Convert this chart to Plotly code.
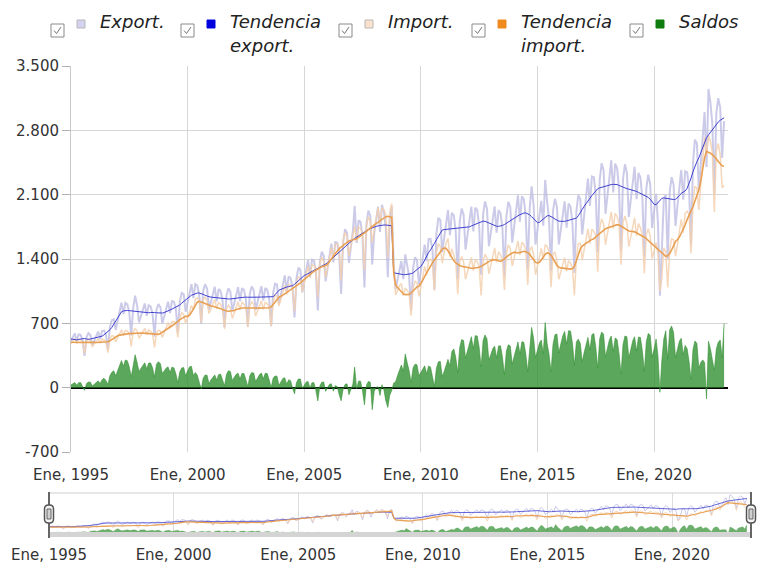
import plotly.graph_objects as go
import pandas as pd

# ---------------- data (monthly, Jan 1995 - Jan 2023) ----------------
export_raw = [
    507, 560, 591, 507, 580, 572, 518, 345, 551, 592, 572, 460,
    514, 572, 610, 528, 616, 621, 578, 415, 655, 734, 745, 628,
    739, 848, 924, 802, 924, 907, 821, 568, 865, 1000, 894, 710,
    789, 869, 916, 782, 897, 883, 804, 556, 848, 909, 875, 698,
    785, 875, 935, 811, 941, 934, 858, 602, 936, 1030, 1015, 826,
    936, 1049, 1126, 974, 1128, 1112, 1009, 697, 1056, 1126, 1075, 851,
    946, 1041, 1098, 939, 1073, 1050, 951, 658, 1005, 1081, 1042, 831,
    929, 1030, 1093, 941, 1082, 1064, 965, 669, 1022, 1100, 1061, 845,
    945, 1044, 1104, 947, 1084, 1064, 964, 670, 1030, 1131, 1123, 912,
    1027, 1145, 1221, 1051, 1210, 1193, 1088, 765, 1191, 1305, 1280, 1036,
    1171, 1304, 1389, 1200, 1392, 1382, 1264, 840, 1362, 1478, 1436, 1157,
    1306, 1463, 1568, 1363, 1584, 1577, 1450, 1020, 1581, 1725, 1685, 1359,
    1531, 1707, 1980, 1574, 1821, 1804, 1651, 1090, 1778, 1926, 1868, 1340,
    1678, 1860, 1971, 1694, 1990, 1912, 1735, 1202, 1836, 1973, 1350, 1071,
    1190, 1309, 1380, 1181, 1450, 1331, 1210, 843, 1300, 1417, 1388, 1122,
    1267, 1431, 1557, 1373, 1617, 1620, 1499, 1068, 1674, 1848, 1825, 1475,
    1651, 1825, 1932, 1659, 1903, 1871, 1699, 1180, 1808, 1949, 1881, 1501,
    1675, 1855, 1971, 1699, 1958, 1933, 1764, 1229, 1884, 2027, 1944, 1539,
    1709, 1876, 1973, 1686, 1931, 1899, 1730, 1207, 1862, 2022, 1966, 1578,
    1773, 1969, 2094, 1807, 2081, 2052, 1864, 1289, 1955, 2190, 1982, 1557,
    1723, 1908, 2033, 1762, 2260, 2020, 1835, 1268, 1924, 2055, 1968, 1558,
    1738, 1916, 2027, 1742, 2002, 1971, 1792, 1248, 1919, 2094, 2052, 1668,
    1895, 2120, 2274, 1978, 2299, 2290, 2102, 1472, 2261, 2442, 2365, 1892,
    2117, 2340, 2475, 2124, 2437, 2387, 2156, 1489, 2267, 2430, 2338, 1858,
    2069, 2279, 2402, 2050, 2338, 2284, 2063, 1425, 2168, 2318, 2214, 1737,
    1915, 2110, 1800, 1000, 1500, 2050, 2100, 1400, 2130, 2290, 2210, 1760,
    1982, 2215, 2369, 2045, 2354, 2344, 2176, 1550, 2444, 2699, 2657, 2150,
    2458, 2777, 3000, 2400, 3250, 3100, 2866, 2100, 2985, 3150, 3050, 2500,
    2900,
]

import_raw = [
    477, 512, 536, 482, 526, 517, 497, 374, 507, 531, 512, 443,
    478, 512, 536, 483, 529, 519, 500, 380, 525, 567, 562, 500,
    548, 595, 629, 568, 623, 614, 594, 448, 610, 642, 619, 536,
    577, 618, 645, 578, 629, 614, 588, 439, 594, 626, 614, 545,
    601, 660, 709, 647, 717, 719, 707, 547, 762, 815, 796, 698,
    753, 822, 894, 843, 963, 977, 949, 711, 953, 988, 941, 806,
    861, 920, 959, 858, 931, 903, 859, 638, 860, 897, 865, 752,
    815, 884, 935, 848, 928, 910, 875, 658, 892, 936, 902, 779,
    840, 901, 945, 850, 928, 911, 879, 669, 927, 1004, 998, 887,
    964, 1045, 1112, 1014, 1124, 1118, 1091, 832, 1136, 1210, 1186, 1044,
    1145, 1243, 1321, 1205, 1338, 1328, 1293, 984, 1344, 1420, 1373, 1197,
    1305, 1425, 1526, 1401, 1562, 1565, 1525, 1163, 1597, 1690, 1643, 1436,
    1552, 1669, 1756, 1588, 1749, 1733, 1682, 1277, 1751, 1858, 1810, 1580,
    1717, 1856, 1962, 1779, 1958, 1937, 1879, 1417, 1916, 2003, 1299, 1008,
    1057, 1110, 1134, 1000, 1083, 1061, 1025, 783, 1082, 1161, 1139, 993,
    1096, 1217, 1319, 1225, 1380, 1397, 1371, 1056, 1463, 1566, 1539, 1354,
    1474, 1576, 1624, 1421, 1509, 1449, 1371, 1018, 1370, 1426, 1368, 1179,
    1266, 1355, 1417, 1274, 1393, 1370, 1323, 1003, 1370, 1453, 1414, 1238,
    1343, 1449, 1521, 1362, 1477, 1444, 1399, 1064, 1463, 1555, 1513, 1323,
    1431, 1529, 1597, 1441, 1581, 1558, 1495, 1117, 1494, 1534, 1446, 1229,
    1316, 1420, 1515, 1392, 1552, 1539, 1475, 1094, 1452, 1480, 1383, 1179,
    1264, 1352, 1415, 1269, 1382, 1355, 1308, 1003, 1421, 1566, 1570, 1386,
    1510, 1633, 1728, 1568, 1724, 1701, 1656, 1262, 1730, 1836, 1784, 1557,
    1686, 1815, 1913, 1730, 1896, 1863, 1788, 1338, 1797, 1868, 1784, 1535,
    1651, 1768, 1848, 1651, 1787, 1738, 1663, 1246, 1669, 1728, 1643, 1404,
    1494, 1580, 1450, 1050, 1200, 1520, 1480, 1090, 1500, 1620, 1610, 1430,
    1563, 1706, 1831, 1686, 1894, 1920, 1889, 1459, 2029, 2192, 2174, 1935,
    2183, 2475, 2725, 2521, 2745, 2678, 2561, 1911, 2565, 2657, 2532, 2174,
    2200,
]

saldos = [
    30, 48, 55, 25, 54, 55, 21, -29, 44, 61, 60, 17,
    36, 60, 74, 45, 87, 102, 78, 35, 130, 167, 183, 128,
    191, 253, 295, 234, 301, 293, 227, 120, 255, 358, 275, 174,
    212, 251, 271, 204, 268, 269, 216, 117, 254, 283, 261, 153,
    184, 215, 226, 164, 224, 215, 151, 55, 174, 215, 219, 128,
    183, 227, 232, 131, 165, 135, 60, -14, 103, 138, 134, 45,
    85, 121, 139, 81, 142, 147, 92, 20, 145, 184, 177, 79,
    114, 146, 158, 93, 154, 154, 90, 11, 130, 164, 159, 66,
    105, 143, 159, 97, 156, 153, 85, 1, 103, 127, 125, 25,
    63, 100, 109, 37, 86, 75, -3, -67, 55, 95, 94, -8,
    26, 61, 68, -5, 54, 54, -29, -144, 18, 58, 63, -40,
    1, 38, 42, -38, 22, 12, -75, -143, -16, 35, 42, -77,
    -21, 38, 224, -14, 72, 71, -31, -187, 27, 68, 58, -240,
    -39, 4, 9, -85, 32, -25, -144, -215, -80, -30, 51, 63,
    133, 199, 246, 181, 367, 270, 185, 60, 218, 256, 249, 129,
    171, 214, 238, 148, 237, 223, 128, 12, 211, 282, 286, 121,
    177, 249, 308, 238, 394, 422, 328, 162, 438, 523, 513, 322,
    409, 500, 554, 425, 565, 563, 441, 226, 514, 574, 530, 301,
    366, 427, 452, 324, 454, 455, 331, 143, 399, 467, 453, 255,
    342, 440, 497, 366, 500, 494, 369, 172, 461, 656, 536, 328,
    407, 488, 518, 370, 708, 481, 360, 174, 472, 575, 585, 379,
    474, 564, 612, 473, 620, 616, 484, 245, 498, 528, 482, 282,
    385, 487, 546, 410, 575, 589, 446, 210, 531, 606, 581, 335,
    431, 525, 562, 394, 541, 524, 368, 151, 470, 562, 554, 323,
    418, 511, 554, 399, 551, 546, 400, 179, 499, 590, 571, 333,
    421, 530, 350, -50, 300, 530, 620, 310, 630, 670, 600, 330,
    419, 509, 538, 359, 460, 424, 287, 91, 415, 507, 483, 215,
    275, 302, 275, -121, 505, 422, 305, 189, 420, 493, 518, 326,
    700,
]

export_trend = [
    530, 525, 520, 520, 525, 530, 530, 535, 530, 525, 530, 535,
    535, 540, 545, 550, 560, 575, 590, 610, 630, 655, 690, 730,
    770, 800, 825, 835, 840, 840, 838, 835, 832, 830, 828, 825,
    822, 820, 818, 815, 815, 818, 820, 818, 815, 812, 810, 812,
    818, 825, 835, 845, 855, 865, 875, 885, 900, 920, 940, 960,
    975, 990, 1005, 1015, 1025, 1030, 1030, 1025, 1015, 1005, 995, 990,
    985, 982, 980, 978, 975, 972, 970, 968, 966, 965, 965, 966,
    968, 972, 976, 980, 984, 985, 985, 984, 983, 982, 982, 983,
    984, 985, 986, 986, 985, 985, 984, 985, 990, 1010, 1040, 1060,
    1070, 1080, 1090, 1095, 1100, 1105, 1110, 1125, 1145, 1165, 1185, 1205,
    1220, 1230, 1240, 1250, 1265, 1280, 1290, 1300, 1310, 1320, 1330, 1345,
    1360, 1380, 1400, 1420, 1440, 1460, 1480, 1500, 1520, 1540, 1560, 1580,
    1595, 1610, 1625, 1640, 1655, 1670, 1685, 1700, 1710, 1720, 1730, 1740,
    1748, 1755, 1760, 1765, 1768, 1770, 1770, 1768, 1765, 1762, 1250, 1245,
    1240, 1235, 1232, 1230, 1230, 1232, 1235, 1240, 1250, 1265, 1285, 1305,
    1320, 1350, 1390, 1430, 1470, 1500, 1530, 1570, 1610, 1650, 1690, 1715,
    1720, 1722, 1725, 1728, 1730, 1732, 1734, 1736, 1738, 1740, 1742, 1745,
    1745, 1750, 1760, 1770, 1780, 1790, 1800, 1808, 1812, 1810, 1800, 1790,
    1780, 1770, 1762, 1756, 1755, 1758, 1765, 1775, 1790, 1805, 1820, 1835,
    1847, 1858, 1870, 1882, 1892, 1900, 1902, 1895, 1880, 1860, 1835, 1810,
    1795, 1800, 1815, 1835, 1855, 1870, 1872, 1865, 1850, 1835, 1822, 1812,
    1810, 1808, 1810, 1815, 1820, 1825, 1829, 1835, 1845, 1870, 1900, 1940,
    1974, 2000, 2030, 2060, 2090, 2120, 2145, 2165, 2174, 2180, 2190, 2200,
    2205, 2208, 2210, 2212, 2215, 2210, 2200, 2190, 2180, 2170, 2165, 2160,
    2155, 2150, 2145, 2135, 2125, 2115, 2105, 2095, 2085, 2070, 2050, 2020,
    1995, 1990, 2010, 2040, 2060, 2065, 2060, 2055, 2050, 2048, 2047, 2050,
    2065, 2090, 2115, 2130, 2140, 2170, 2220, 2280, 2350, 2410, 2460, 2500,
    2560, 2620, 2680, 2720, 2750, 2780, 2810, 2840, 2870, 2890, 2910, 2925,
    2936,
]

import_trend = [
    494, 492, 490, 488, 490, 492, 494, 495, 494, 493, 492, 493,
    493, 492, 492, 493, 494, 494, 495, 500, 510, 525, 540, 555,
    565, 572, 577, 580, 582, 585, 588, 590, 592, 594, 595, 595,
    595, 594, 592, 590, 588, 585, 582, 578, 577, 580, 590, 605,
    620, 635, 650, 660, 670, 685, 700, 720, 740, 755, 765, 776,
    776, 790, 820, 860, 900, 930, 940, 935, 925, 915, 905, 895,
    888, 885, 880, 875, 870, 860, 850, 840, 835, 831, 832, 835,
    840, 850, 858, 865, 867, 867, 866, 866, 866, 867, 867, 866,
    866, 866, 867, 867, 867, 868, 870, 880, 900, 930, 960, 985,
    994, 1005, 1020, 1035, 1050, 1065, 1080, 1095, 1103, 1120, 1140, 1160,
    1180, 1195, 1212, 1230, 1250, 1265, 1280, 1295, 1305, 1315, 1320, 1330,
    1345, 1370, 1400, 1430, 1460, 1490, 1510, 1530, 1550, 1565, 1580, 1595,
    1600, 1605, 1611, 1620, 1635, 1650, 1665, 1680, 1700, 1720, 1740, 1756,
    1770, 1785, 1800, 1815, 1830, 1845, 1860, 1865, 1860, 1855, 1249, 1120,
    1090, 1067, 1040, 1020, 1012, 1010, 1015, 1030, 1050, 1075, 1095, 1103,
    1130, 1170, 1210, 1250, 1290, 1330, 1357, 1390, 1420, 1450, 1480, 1505,
    1520, 1515, 1490, 1450, 1410, 1380, 1357, 1340, 1330, 1320, 1315, 1310,
    1305, 1303, 1300, 1300, 1302, 1305, 1310, 1320, 1330, 1345, 1360, 1375,
    1385, 1393, 1395, 1390, 1380, 1375, 1385, 1400, 1420, 1440, 1455, 1470,
    1475, 1470, 1465, 1470, 1478, 1484, 1480, 1470, 1450, 1420, 1390, 1365,
    1357, 1365, 1390, 1420, 1450, 1466, 1460, 1440, 1410, 1370, 1330, 1310,
    1303, 1300, 1298, 1295, 1292, 1290, 1295, 1320, 1380, 1450, 1510, 1540,
    1557, 1570, 1585, 1600, 1611, 1620, 1640, 1660, 1680, 1700, 1715, 1730,
    1738, 1745, 1755, 1765, 1772, 1774, 1770, 1760, 1745, 1730, 1715, 1705,
    1702, 1700, 1695, 1685, 1670, 1655, 1647, 1640, 1620, 1600, 1580, 1560,
    1540, 1520, 1500, 1480, 1460, 1440, 1429, 1435, 1460, 1500, 1550, 1590,
    1611, 1640, 1680, 1720, 1770, 1829, 1870, 1920, 1970, 2030, 2090, 2150,
    2250, 2380, 2500, 2572, 2565, 2550, 2536, 2515, 2490, 2460, 2435, 2415,
    2409,
]

x_tick_vals = ["1995-01-01", "2000-01-01", "2005-01-01", "2010-01-01", "2015-01-01", "2020-01-01"]
x_tick_text = ["Ene, 1995", "Ene, 2000", "Ene, 2005", "Ene, 2010", "Ene, 2015", "Ene, 2020"]
y_tick_vals = [-700, 0, 700, 1400, 2100, 2800, 3500]
y_tick_text = ["-700", "0", "700", "1.400", "2.100", "2.800", "3.500"]

legend_names = ["Export.", "Tendencia<br>export.", "Import.", "Tendencia<br>import.", "Saldos"]
legend_colors = ["#d4d4f0", "#0000dd", "#fbe2cc", "#f08a1e", "#0d7d0d"]

# ---------------- figure ----------------
# the page body has an 8px margin, so the figure starts at (8, 8) in the window
OFF = 8
W, H = 783 - 2 * OFF, 565 - OFF


def px(x):
    return (x - OFF) / W


def py(y):
    return 1 - (y - OFF) / H


dates = pd.date_range("1995-01-01", periods=len(export_raw), freq="MS")
x_range = ["1995-01-01", "2023-03-03"]

fig = go.Figure()

# main chart
fig.add_trace(go.Scatter(x=dates, y=saldos, name="Saldos", mode="lines",
                         line=dict(color="rgba(45,140,45,0.55)", width=1),
                         fill="tozeroy", fillcolor="rgba(50,145,50,0.8)",
                         xaxis="x", yaxis="y", hoverinfo="skip"))
fig.add_trace(go.Scatter(x=dates, y=export_raw, name="Export.", mode="lines",
                         line=dict(color="rgba(190,190,228,0.8)", width=2),
                         xaxis="x", yaxis="y"))
fig.add_trace(go.Scatter(x=dates, y=import_raw, name="Import.", mode="lines",
                         line=dict(color="rgba(243,208,175,0.85)", width=1.5),
                         xaxis="x", yaxis="y"))
fig.add_trace(go.Scatter(x=dates, y=export_trend, name="Tendencia export.", mode="lines",
                         line=dict(color="#4040d0", width=1),
                         xaxis="x", yaxis="y"))
fig.add_trace(go.Scatter(x=dates, y=import_trend, name="Tendencia import.", mode="lines",
                         line=dict(color="#e8a055", width=1.6),
                         xaxis="x", yaxis="y"))

# navigator (mini chart)
fig.add_trace(go.Scatter(x=dates, y=saldos, mode="lines",
                         line=dict(color="rgba(45,140,45,0.5)", width=0.5),
                         fill="tozeroy", fillcolor="rgba(60,150,60,0.75)",
                         xaxis="x3", yaxis="y3", hoverinfo="skip"))
fig.add_trace(go.Scatter(x=dates, y=export_raw, mode="lines",
                         line=dict(color="rgba(190,190,228,0.8)", width=1),
                         xaxis="x3", yaxis="y3"))
fig.add_trace(go.Scatter(x=dates, y=import_raw, mode="lines",
                         line=dict(color="rgba(243,208,175,0.85)", width=1),
                         xaxis="x3", yaxis="y3"))
fig.add_trace(go.Scatter(x=dates, y=export_trend, mode="lines",
                         line=dict(color="#4040d0", width=0.8),
                         xaxis="x3", yaxis="y3"))
fig.add_trace(go.Scatter(x=dates, y=import_trend, mode="lines",
                         line=dict(color="#e8a055", width=1.2),
                         xaxis="x3", yaxis="y3"))

grid = "#d6d6d6"
fig.update_layout(
    width=W, height=H,
    margin=dict(l=0, r=0, t=0, b=0),
    paper_bgcolor="white", plot_bgcolor="white",
    showlegend=False,
    font=dict(family="DejaVu Sans", size=15, color="#333333"),
    xaxis=dict(domain=[px(71), px(728)], anchor="y", type="date", range=x_range,
               tickmode="array", tickvals=x_tick_vals, ticktext=x_tick_text,
               showgrid=True, gridcolor=grid, gridwidth=1,
               ticks="outside", ticklen=9, tickcolor="rgba(0,0,0,0)",
               showline=False, zeroline=False, automargin=False, fixedrange=True),
    yaxis=dict(domain=[py(452), py(66)], anchor="x", range=[-700, 3500],
               tickmode="array", tickvals=y_tick_vals, ticktext=y_tick_text,
               showgrid=True, gridcolor=grid, gridwidth=1,
               ticks="outside", ticklen=8, tickcolor="#b0b0b0",
               showline=True, linecolor="#c8c8c8", linewidth=1,
               zeroline=True, zerolinecolor="#000000", zerolinewidth=2,
               automargin=False, fixedrange=True),
    yaxis2=dict(overlaying="y", anchor="x", side="right", range=[-700, 3500],
                tickmode="array", tickvals=y_tick_vals, ticktext=y_tick_text,
                showgrid=False, ticks="outside", ticklen=4, tickcolor="#b0b0b0",
                showline=True, linecolor="#c8c8c8", linewidth=1,
                zeroline=False, automargin=False, fixedrange=True),
    xaxis3=dict(domain=[px(49), px(751)], anchor="y3", type="date", range=x_range,
                tickmode="array", tickvals=x_tick_vals, ticktext=x_tick_text,
                showgrid=True, gridcolor="#dcdcdc", gridwidth=1,
                ticks="outside", ticklen=4, tickcolor="rgba(0,0,0,0)",
                showline=False, zeroline=False, automargin=False, fixedrange=True),
    yaxis3=dict(domain=[py(537), py(493)], anchor="x3", range=[-350, 3400],
                showticklabels=False, showgrid=False, zeroline=False,
                showline=False, ticks="", automargin=False, fixedrange=True),
)

shapes = []
# navigator frame: top line and bottom grey band
shapes.append(dict(type="line", xref="paper", yref="paper",
                   x0=px(49), x1=px(751), y0=py(493), y1=py(493),
                   line=dict(color="#cfcfcf", width=1)))
shapes.append(dict(type="rect", xref="paper", yref="paper",
                   x0=px(49), x1=px(751), y0=py(537), y1=py(532),
                   fillcolor="#d4d4d4", line=dict(width=0), layer="above"))
# handles
for hx in (49, 751):
    shapes.append(dict(type="line", xref="paper", yref="paper",
                       x0=px(hx), x1=px(hx), y0=py(538), y1=py(492),
                       line=dict(color="#666666", width=2), layer="above"))
    x0, x1, y0, y1, r = hx - 4.5, hx + 4.5, 505, 523, 4
    path = (f"M {px(x0 + r)},{py(y0)} L {px(x1 - r)},{py(y0)} "
            f"Q {px(x1)},{py(y0)} {px(x1)},{py(y0 + r)} L {px(x1)},{py(y1 - r)} "
            f"Q {px(x1)},{py(y1)} {px(x1 - r)},{py(y1)} L {px(x0 + r)},{py(y1)} "
            f"Q {px(x0)},{py(y1)} {px(x0)},{py(y1 - r)} L {px(x0)},{py(y0 + r)} "
            f"Q {px(x0)},{py(y0)} {px(x0 + r)},{py(y0)} Z")
    shapes.append(dict(type="path", xref="paper", yref="paper", path=path,
                       fillcolor="#f4f4f4", line=dict(color="#555555", width=1.5), layer="above"))
    shapes.append(dict(type="rect", xref="paper", yref="paper",
                       x0=px(hx - 2), x1=px(hx + 2), y0=py(519), y1=py(509),
                       fillcolor="#d0d0d0", line=dict(color="#666666", width=1), layer="above"))

# custom legend
annotations = []
text_x = [98, 228, 386, 519, 677]
for tx, name, col in zip(text_x, legend_names, legend_colors):
    cb = tx - 47
    shapes.append(dict(type="rect", xref="paper", yref="paper",
                       x0=px(cb), x1=px(cb + 13), y0=py(37), y1=py(24),
                       fillcolor="white", line=dict(color="#8a8a8a", width=1)))
    shapes.append(dict(type="path", xref="paper", yref="paper",
                       path=(f"M {px(cb + 3)},{py(30.5)} L {px(cb + 5.5)},{py(33.5)} "
                             f"L {px(cb + 10)},{py(27)}"),
                       line=dict(color="#777777", width=1)))
    sq = tx - 21
    shapes.append(dict(type="rect", xref="paper", yref="paper",
                       x0=px(sq), x1=px(sq + 8), y0=py(28), y1=py(20),
                       fillcolor=col, line=dict(color="#b8b8b8" if col in ("#d4d4f0", "#fbe2cc") else col, width=1)))
    lines = name.split("<br>")
    for i, ln in enumerate(lines):
        annotations.append(dict(xref="paper", yref="paper", x=px(tx), y=py(21 + 25 * i),
                                xanchor="left", yanchor="middle", showarrow=False,
                                text=f"<i>{ln}</i>",
                                font=dict(family="DejaVu Sans", size=18, color="#222222")))

fig.update_layout(shapes=shapes, annotations=annotations)

fig.write_html("out.html")
